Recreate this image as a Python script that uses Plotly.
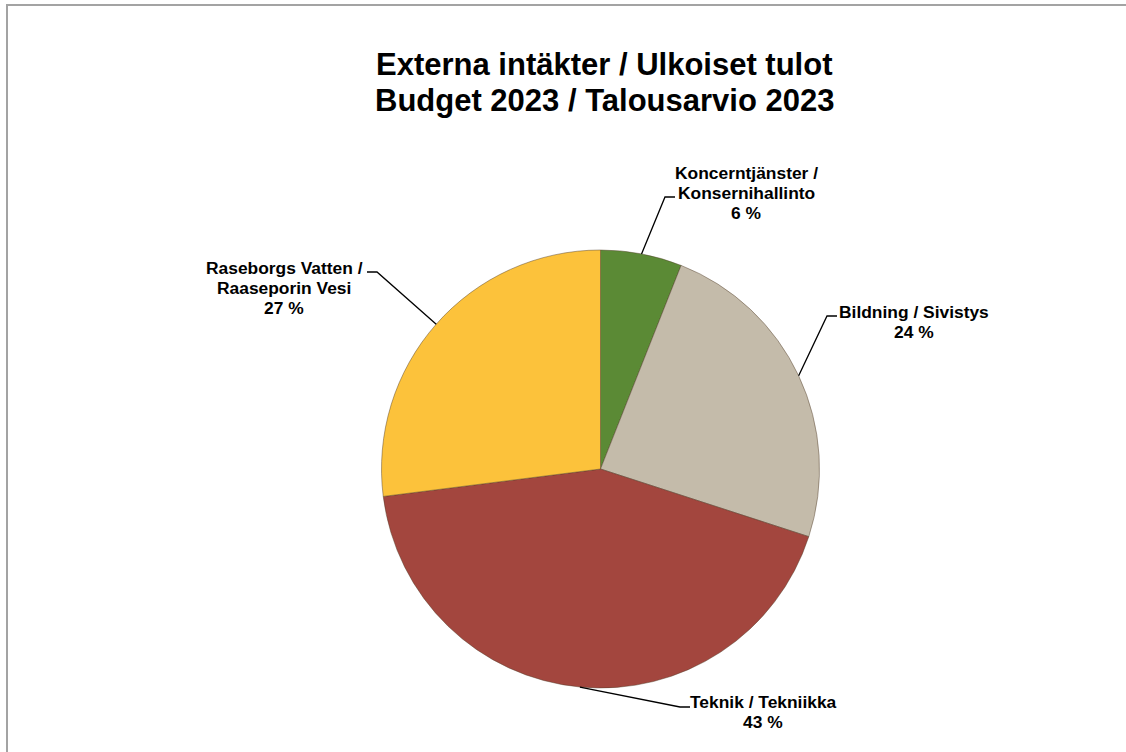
import math
import plotly.graph_objects as go

# ---- data ----
categories = ["Koncerntjänster /<br>Konsernihallinto", "Bildning / Sivistys",
              "Teknik / Tekniikka", "Raseborgs Vatten /<br>Raaseporin Vesi"]
shares = [6, 24, 43, 27]
colors = ["#5b8a35", "#c4bbaa", "#a3463e", "#fcc23b"]
title_lines = ["Externa intäkter / Ulkoiset tulot", "Budget 2023 / Talousarvio 2023"]

# ---- layout (pixels) ----
W, H = 1126, 752
CX, CY, R = 600.5, 469, 219
# label layout: (text center x, first line center y, knee x, knee y, attach x)
label_layout = [
    (746, 173, 665, 197, 675),
    (914, 312, 827, 316, 837),
    (763, 702, 680, 707, 690),
    (284, 268, 377, 272, 367),
]
LINE_STEP = 20
FONT = "Liberation Sans, Arial, sans-serif"


def px(x):
    return x / W


def py(y):
    return 1 - y / H


fig = go.Figure()
fig.add_trace(go.Pie(
    labels=categories, values=shares, sort=False, direction="clockwise", rotation=0,
    marker=dict(colors=colors, line=dict(color="rgba(80,60,40,0.45)", width=1)),
    textinfo="none", hoverinfo="label+percent", showlegend=False,
    domain=dict(x=[px(CX - R), px(CX + R)], y=[py(CY + R), py(CY - R)]),
))

annotations = []
shapes = []
for i, t in enumerate(title_lines):
    annotations.append(dict(text=f"<b>{t}</b>", x=px(604), y=py(64 + 36 * i), xref="paper", yref="paper",
                            xanchor="center", yanchor="middle", showarrow=False,
                            font=dict(family=FONT, size=31, color="#000000")))

total = sum(shares)
cum = 0
for cat, v, (tx, ty, kx, ky, ax) in zip(categories, shares, label_layout):
    mid = (cum + v / 2) / total * 2 * math.pi
    cum += v
    ex = CX + R * math.sin(mid)
    ey = CY - R * math.cos(mid)
    lines = cat.split("<br>") + [f"{round(v / total * 100)} %"]
    for j, ln in enumerate(lines):
        annotations.append(dict(text=f"<b>{ln}</b>", x=px(tx), y=py(ty + LINE_STEP * j),
                                xref="paper", yref="paper", xanchor="center", yanchor="middle",
                                showarrow=False, font=dict(family=FONT, size=17.4, color="#000000")))
    shapes.append(dict(type="path", xref="paper", yref="paper",
                       path=f"M {px(ex)} {py(ey)} L {px(kx)} {py(ky)} L {px(ax)} {py(ky)}",
                       line=dict(color="#000000", width=1.3)))

# outer frame (top and left visible)
shapes.append(dict(type="rect", xref="paper", yref="paper", x0=px(7), y0=py(5), x1=1.2, y1=-0.2,
                   line=dict(color="#a3a3a3", width=2), fillcolor="rgba(0,0,0,0)"))

fig.update_layout(width=W, height=H, margin=dict(l=0, r=0, t=0, b=0),
                  paper_bgcolor="#ffffff", plot_bgcolor="#ffffff",
                  annotations=annotations, shapes=shapes)
fig.write_html("out.html", config={"displayModeBar": False},
               post_script="document.body.style.margin='0px';")
